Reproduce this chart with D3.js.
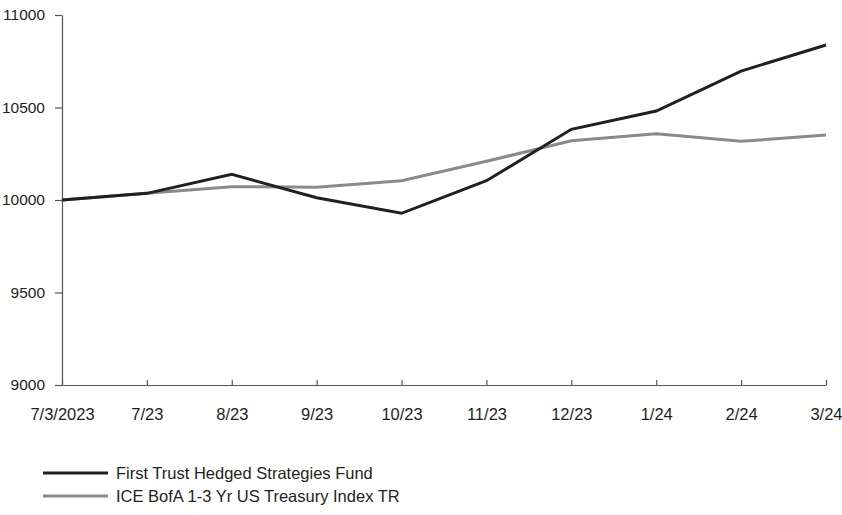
<!DOCTYPE html>
<html><head><meta charset="utf-8">
<script src="https://cdn.jsdelivr.net/npm/d3@7"></script>
<style>body{margin:0;background:#fff}text{font-family:"Liberation Sans",Arial,sans-serif}</style>
</head><body><svg id="c" width="842" height="515"></svg>
<script>
const categories = ["7/3/2023","7/23","8/23","9/23","10/23","11/23","12/23","1/24","2/24","3/24"];
const fundValues = [10000,10036,10139,10012,9928,10104,10382,10481,10697,10838];
const indexValues = [10000,10036,10072,10069,10104,10209,10320,10358,10317,10351];
const yTicks = [9000,9500,10000,10500,11000];
const seriesNames = ["First Trust Hedged Strategies Fund","ICE BofA 1-3 Yr US Treasury Index TR"];
const seriesColors = ["#231f20","#8a8a8a"];

const svg = d3.select("#c");
const x = d3.scalePoint().domain(categories).range([62,826]);
const y = d3.scaleLinear().domain([9000,11000]).range([385,15]);

const xa = svg.append("g").attr("transform","translate(0,385)")
  .call(d3.axisBottom(x).tickSizeInner(-5).tickSizeOuter(0).tickPadding(20));
const ya = svg.append("g").attr("transform","translate(62,0)")
  .call(d3.axisLeft(y).tickValues(yTicks).tickFormat(d3.format("d")).tickSizeInner(7).tickSizeOuter(0).tickPadding(10));
[xa,ya].forEach(a=>{
  a.selectAll("path,line").attr("stroke","#555").attr("stroke-width",1.2);
  a.selectAll("text").attr("fill","#231f20").attr("font-family","'Liberation Sans',Arial,sans-serif");
});
xa.selectAll("text").attr("font-size",16.5).attr("dy","0.71em").attr("y",23);
ya.selectAll("text").attr("font-size",15.5);

const line = d3.line().x((d,i)=>x(categories[i])).y(d=>y(d));
[indexValues,fundValues].forEach((vals,k)=>{
  const c = k===0?seriesColors[1]:seriesColors[0];
  svg.append("path").datum(vals).attr("d",line).attr("fill","none")
    .attr("stroke",c).attr("stroke-width",3).attr("stroke-linejoin","miter");
});

const lg = svg.append("g");
seriesNames.forEach((n,i)=>{
  const yy = 473 + i*23;
  lg.append("line").attr("x1",43).attr("x2",108).attr("y1",yy).attr("y2",yy)
    .attr("stroke",seriesColors[i]).attr("stroke-width",3);
  lg.append("text").attr("x",116).attr("y",yy).attr("dy","0.35em")
    .attr("font-size",16.5).attr("fill","#231f20").text(n);
});
</script></body></html>
